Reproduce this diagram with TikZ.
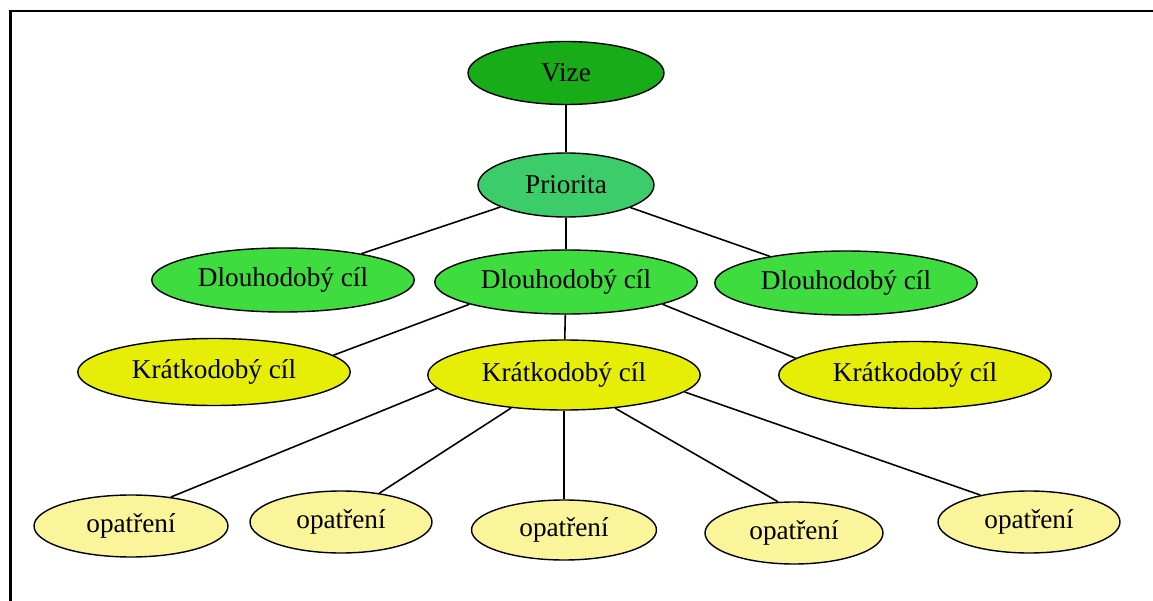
\documentclass[tikz,border=0pt]{standalone}
\usepackage{fontspec}
\setmainfont{Liberation Serif}
\usepackage{xcolor}
\usepackage{tikz}
\usetikzlibrary{shapes.geometric}

\definecolor{vizegreen}{HTML}{18AC18}
\definecolor{priogreen}{HTML}{3CCC6A}
\definecolor{cilgreen}{HTML}{3EDC3E}
\definecolor{kratyellow}{HTML}{E6EE08}
\definecolor{opayellow}{HTML}{FAF59A}

\begin{document}
\begin{tikzpicture}[x=0.02cm, y=-0.02cm, line width=0.9pt,
		every node/.style={ellipse, draw, line width=0.8pt, inner sep=0pt,
			font=\fontsize{15.5}{18}\selectfont},
		vize/.style={fill=vizegreen, minimum width=3.92cm, minimum height=1.26cm},
		prio/.style={fill=priogreen, minimum width=3.52cm, minimum height=1.28cm},
		dlouhy/.style={fill=cilgreen, minimum width=5.25cm, minimum height=1.28cm},
		kratky/.style={fill=kratyellow, minimum width=5.45cm, minimum height=1.34cm},
		opatreni/.style={fill=opayellow, minimum width=3.7cm, minimum height=1.24cm}]
		\useasboundingbox (0,0) rectangle (1153,601);
		\draw[line width=1.7pt] (10.5,601) -- (10.5,11) -- (1153,11);

		\node[vize] (vize) at (566,73) {Vize};
		\node[prio] (prio) at (566,185) {Priorita};

		\node[dlouhy] (dlL) at (283,280) {Dlouhodobý cíl};
		\node[dlouhy] (dlM) at (566,282) {Dlouhodobý cíl};
		\node[dlouhy] (dlR) at (846,283) {Dlouhodobý cíl};

		\node[kratky] (krL) at (214,372) {Krátkodobý cíl};
		\node[kratky, minimum height=1.4cm] (krM) at (564,375) {Krátkodobý cíl};
		\node[kratky] (krR) at (915,375) {Krátkodobý cíl};

		\node[opatreni, minimum width=3.88cm] (op1) at (131,526) {opatření};
		\node[opatreni, minimum width=3.64cm] (op2) at (341,522) {opatření};
		\node[opatreni, minimum width=3.7cm, minimum height=1.2cm] (op3) at (564,530) {opatření};
		\node[opatreni, minimum width=3.56cm] (op4) at (794,533) {opatření};
		\node[opatreni, minimum width=3.64cm] (op5) at (1029,522) {opatření};

		\path (vize) edge (prio);
		\path (prio) edge (dlL);
		\path (prio) edge (dlM);
		\path (prio) edge (dlR);

		\path (dlM.193) edge (krL.8);
		\path (dlM) edge (krM);
		\path (dlM.347) edge (krR.172);

		\path (krM.186) edge (op1.36);
		\path (krM.212) edge (op2.37);
		\path (krM) edge (op3);
		\path (krM.327) edge (op4.117);
		\path (krM.352) edge (op5.151);
		%\path (krM) edge (op5);
	\end{tikzpicture}
\end{document}
